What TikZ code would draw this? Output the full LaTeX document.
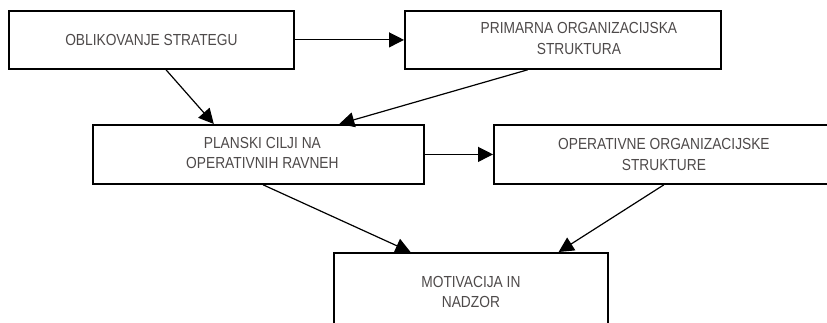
\documentclass[tikz,border=0pt]{standalone}
\usepackage{fontspec}
\setmainfont[FakeStretch=0.86]{Liberation Sans}
\usetikzlibrary{arrows.meta,calc}
\definecolor{txt}{RGB}{78,74,74}
\tikzset{
  box/.style={draw=black, line width=1.8pt, fill=white, anchor=north west,
    inner sep=0pt, align=center, text=txt,
    font=\fontsize{16pt}{20.5pt}\selectfont},
  conn/.style={line width=1.2pt, -{Triangle[length=15pt,width=15pt]}},
}
\begin{document}
\begin{tikzpicture}[x=1pt,y=-1pt]
\clip (0,0) rectangle (827,323);
\fill[white] (0,0) rectangle (827,323);
\node[box, minimum width=285pt, minimum height=58pt] (A) at (8,10) {OBLIKOVANJE STRATEGU};
\node[box, minimum width=316pt, minimum height=58pt] (B) at (404,10)
  {\hspace*{32pt}\begin{tabular}{@{}c@{}}PRIMARNA ORGANIZACIJSKA\\STRUKTURA\end{tabular}};
\node[box, minimum width=331pt, minimum height=59pt] (C) at (92,124)
  {\hspace*{8pt}\begin{tabular}{@{}c@{}}PLANSKI CILJI NA\\OPERATIVNIH RAVNEH\end{tabular}};
\node[box, minimum width=340pt, minimum height=59pt] (D) at (493,124)
  {OPERATIVNE ORGANIZACIJSKE\\STRUKTURE};
\node[box, minimum width=274pt, minimum height=78pt] (E) at (333,252)
  {MOTIVACIJA IN\\NADZOR};
\draw[conn] (A.east) -- (B.west);
\draw[conn] ($(A.south west)!0.551!(A.south east)$) -- ($(C.north west)!0.366!(C.north east)$);
\draw[conn] ($(B.south west)!0.389!(B.south east)$) -- ($(C.north west)!0.743!(C.north east)$);
\draw[conn] (C.east) -- (D.west);
\draw[conn] ($(C.south west)!0.514!(C.south east)$) -- ($(E.north west)!0.281!(E.north east)$);
\draw[conn] (D.south) -- ($(E.north west)!0.818!(E.north east)$);
\end{tikzpicture}
\end{document}
